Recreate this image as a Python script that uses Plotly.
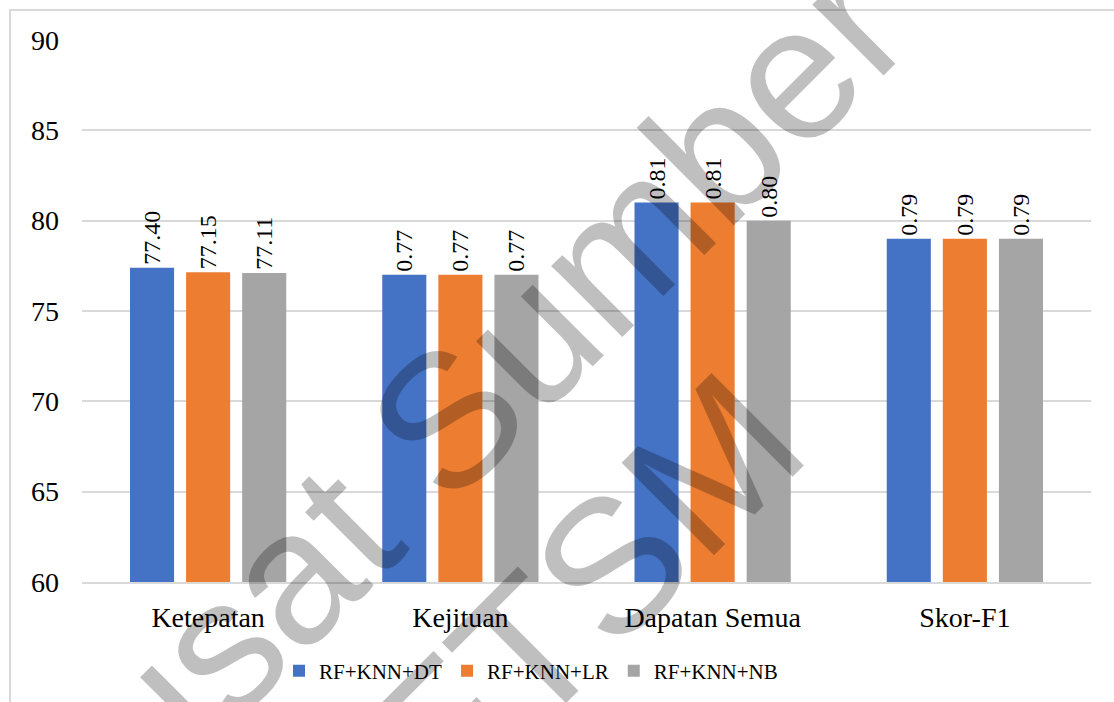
import plotly.graph_objects as go

# Evaluation metrics for the three ensemble combinations
categories = ["Ketepatan", "Kejituan", "Dapatan Semua", "Skor-F1"]
series_names = ["RF+KNN+DT", "RF+KNN+LR", "RF+KNN+NB"]
dt_scores = [77.40, 0.77, 0.81, 0.79]
lr_scores = [77.15, 0.77, 0.81, 0.79]
nb_scores = [77.11, 0.77, 0.80, 0.79]
y_ticks = [60, 65, 70, 75, 80, 85, 90]

colors = ["#4472C4", "#ED7D31", "#A5A5A5"]
serif = "Liberation Serif"
sans = "Liberation Sans"

W, H = 1114, 702
L, R, T, B = 82, 23, 40, 119
PW, PH = W - L - R, H - T - B


def px(x):
    return (x - L) / PW


def py(y):
    return (H - B - y) / PH


def as_percent(v):
    # accuracy is already a percentage, the other metrics are fractions
    return v if v > 1 else v * 100


fig = go.Figure()
for name, vals, col in zip(series_names, [dt_scores, lr_scores, nb_scores], colors):
    fig.add_trace(go.Bar(
        name=name,
        x=categories,
        y=[as_percent(v) for v in vals],
        text=[f"{v:.2f}" for v in vals],
        textposition="outside",
        textangle=-90,
        constraintext="none",
        cliponaxis=False,
        textfont=dict(family=serif, size=24, color="#000000"),
        marker=dict(color=col, line=dict(width=0)),
    ))

fig.update_layout(
    width=W, height=H,
    margin=dict(l=L, r=R, t=T, b=B),
    paper_bgcolor="white", plot_bgcolor="white",
    barmode="group", bargap=0.333, bargroupgap=0.214,
    font=dict(family=serif, color="#000000"),
    legend=dict(
        orientation="h", x=px(531), xanchor="center", y=py(671), yanchor="middle",
        font=dict(family=serif, size=21), itemwidth=30,
    ),
    showlegend=True,
)
fig.update_yaxes(
    range=[60, 90], tickvals=y_ticks, showgrid=True, gridcolor="#D9D9D9", gridwidth=2,
    zeroline=False, showline=False, tickfont=dict(family=serif, size=28),
    ticks="", ticklabelstandoff=22,
)
fig.update_xaxes(
    showline=True, linecolor="#D9D9D9", linewidth=2, ticks="",
    tickfont=dict(family=serif, size=28), ticklabelstandoff=9,
)

# chart frame
fig.add_shape(type="rect", xref="paper", yref="paper",
              x0=px(10), x1=px(1140), y0=py(10), y1=py(730),
              line=dict(color="#D9D9D9", width=2), fillcolor="rgba(0,0,0,0)", layer="below")

# watermark
wm_font = dict(family=sans, size=190, color="rgba(0,0,0,0.25)")
fig.add_annotation(text="Pusat Sumber", xref="paper", yref="paper",
                   x=px(447), y=py(420), xanchor="center", yanchor="middle",
                   showarrow=False, textangle=-45, font=wm_font)
fig.add_annotation(text="FTSM", xref="paper", yref="paper",
                   x=px(585), y=py(592), xanchor="center", yanchor="middle",
                   showarrow=False, textangle=-45, font=wm_font)

fig.write_html("out.html")
